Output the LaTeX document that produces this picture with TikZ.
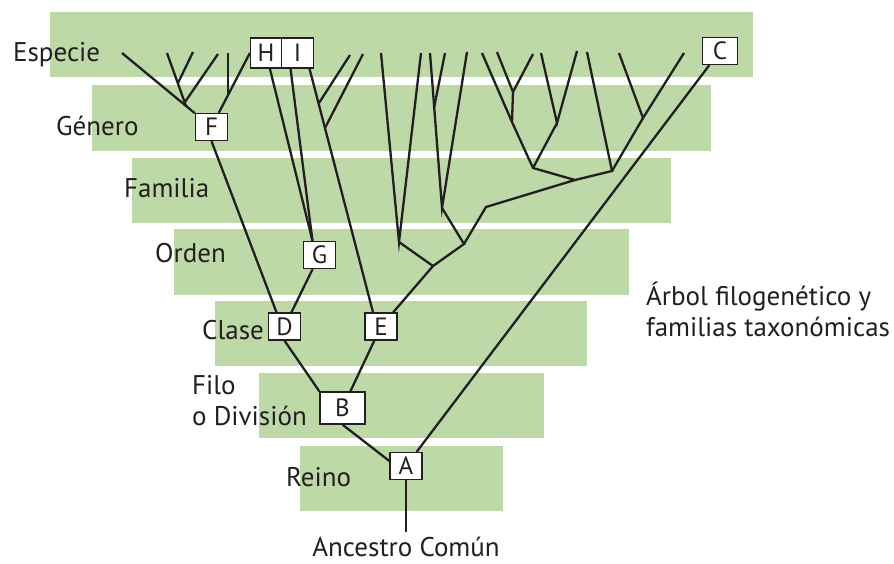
\documentclass[tikz,border=0pt]{standalone}
\usepackage{fontspec}
\setmainfont{PT Sans}
\usepackage{xcolor}
\usepackage{tikz}
\usetikzlibrary{positioning,calc}
\definecolor{bandgreen}{RGB}{190,217,168}
\definecolor{ink}{RGB}{35,31,32}

\begin{document}
\begin{tikzpicture}[x=1pt, y=-1pt, line width=2.3pt, draw=ink,
  every node/.style={font=\fontsize{27}{31}\selectfont, text=ink},
  band/.style={fill=bandgreen},
  rank/.style={anchor=base west, inner sep=0pt},
  taxon/.style={draw=ink, fill=white, line width=1.3pt, inner sep=0pt, minimum width=32pt, minimum height=27pt, font=\fontsize{25}{30}\selectfont}]
\useasboundingbox (0,0) rectangle (894,564);

% franjas de las categorias
\fill[band] (50,12) rectangle (753,77);
\fill[band] (92,85) rectangle (711,151);
\fill[band] (132,158) rectangle (671,223);
\fill[band] (174,229) rectangle (629,295);
\fill[band] (215,301) rectangle (587,366);
\fill[band] (259,373) rectangle (544,438);
\fill[band] (300,446) rectangle (503,511);

% nombres de las categorias
\node (especie) [rank] at (12,62) {Especie};
\node (genero) [rank] at (55,136) {Género};
\node (familia) [rank] at (123,198) {Familia};
\node (orden) [rank] at (154,262) {Orden};
\node (clase) [rank] at (201,339) {Clase};
\node (filo) [rank, align=left] at (191,425) {Filo\\o División};
\node (reino) [rank] at (285,486) {Reino};
\node (titulo) [rank, align=left] at (645,336) {Árbol filogenético y\\familias taxonómicas};
\node (ancestro) [anchor=base, inner sep=0pt] at (406,556) {Ancestro Común};

% grupos
\node (A) [taxon] at (406,466) {A};
\node (B) [taxon, minimum width=45pt, minimum height=32pt] at (342.5,408) {B};
\node (C) [taxon, minimum width=35pt] at (720,51) {C};
\node (D) [taxon] at (284.5,326.5) {D};
\node (E) [taxon] at (381,326.5) {E};
\node (F) [taxon] at (211.5,127) {F};
\node (G) [taxon] at (319.5,255) {G};
\node (H) [taxon, minimum width=31pt, minimum height=30pt] at (266,53) {H};
\node (I) [taxon, minimum height=30pt] at (297.5,53) {I};

% especies de F
\coordinate (l1) at (122,53);
\coordinate (l2) at (167,53);
\coordinate (l3) at (193,52);
\coordinate (l4) at (218,54);
\coordinate (l5) at (228,53);
\coordinate (j1) at (178,83);
\coordinate (j2) at (186,106);
\coordinate (j3) at (185,102);
\coordinate (j4) at (228,96);
\draw (l1) -- (F);
\draw (l2) -- (j2);
\draw (l3) -- (j1);
\draw (l4) -- (j3);
\draw (l5) -- (j4);
\draw (F) -- (H.west);

% H, I y la rama hacia E
\coordinate (m1) at (350,55);
\coordinate (m2) at (363,54);
\coordinate (k1) at (319,103);
\coordinate (k2) at (325,128);
\draw (H) -- ([xshift=-7pt]G.north);
\draw ([xshift=-7pt]I.south) -- ([xshift=-7pt]G.north);
\draw ([xshift=12pt]I.south) -- ([xshift=-8pt]E.north);
\draw (m1) -- (k1);
\draw (m2) -- (k2);

% rama central
\coordinate (n1) at (381,53);
\coordinate (n2) at (421,53);
\coordinate (n3) at (430,53);
\coordinate (n4) at (445,53);
\coordinate (n5) at (467,52);
\coordinate (p1) at (399,242);
\coordinate (p2) at (442,208);
\coordinate (p3) at (434,108);
\coordinate (p4) at (464,244);
\coordinate (p5) at (433,266);
\coordinate (p6) at (486,207);
\coordinate (p7) at (575,180);
\draw (n1) -- (p1) -- (n2);
\draw (n3) -- (p2) -- (n5);
\draw (n4) -- (p3);
\draw (p1) -- (p5) -- (p4) -- (p2);
\draw (p4) -- (p6) -- (p7);
\draw (p5) -- (E);

% rama derecha
\coordinate (q1) at (482,53);
\coordinate (q2) at (497,52);
\coordinate (q3) at (533,54);
\coordinate (q4) at (541,53);
\coordinate (q5) at (577,51);
\coordinate (q6) at (587,52);
\coordinate (q7) at (619,53);
\coordinate (q8) at (684,53);
\coordinate (r1) at (512,122);
\coordinate (r2) at (513,92);
\coordinate (r3) at (557,123);
\coordinate (r4) at (612,171);
\coordinate (r5) at (643,118);
\coordinate (p8) at (533,168);
\draw (q1) -- (r1) -- (p8) -- (p7) -- (r4) -- (q6);
\draw (q2) -- (r2) -- (q3);
\draw (r2) -- (r1);
\draw (q4) -- (r3) -- (q5);
\draw (r3) -- (p8);
\draw (q7) -- (r5) -- (q8);
\draw (r5) -- (r4);

% tronco
\draw (C) -- (A);
\draw (G) -- (D);
\draw (F.south) -- ([xshift=-8pt]D.north);
\draw (D.south) -- (B.north west);
\draw (E) -- (B);
\draw (B.south) -- ([yshift=5pt]A.west);
\draw[shorten >=3pt] (A) -- (ancestro);
\end{tikzpicture}
\end{document}
